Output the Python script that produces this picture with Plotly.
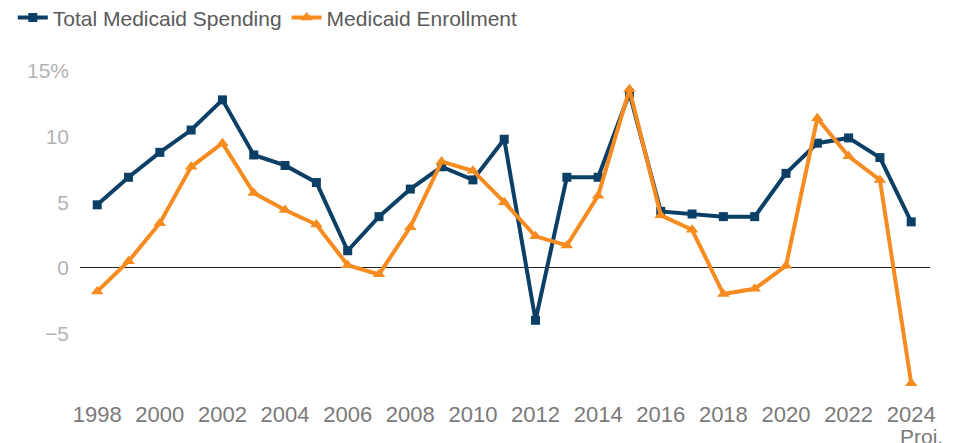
import plotly.graph_objects as go

years = list(range(1998, 2025))
spending = [4.8, 6.9, 8.8, 10.5, 12.8, 8.6, 7.8, 6.5, 1.3, 3.9, 6.0, 7.7, 6.7, 9.8,
            -4.0, 6.9, 6.9, 13.3, 4.3, 4.1, 3.9, 3.9, 7.2, 9.5, 9.9, 8.4, 3.5]
enrollment = [-1.8, 0.5, 3.4, 7.7, 9.5, 5.7, 4.4, 3.3, 0.2, -0.5, 3.1, 8.1, 7.4, 5.0,
              2.4, 1.7, 5.5, 13.6, 4.0, 2.9, -2.0, -1.6, 0.15, 11.4, 8.5, 6.7, -8.8]
x_tickvals = list(range(1998, 2025, 2))
x_ticktext = [str(y) for y in x_tickvals]
y_tickvals = [-5, 0, 5, 10, 15]
y_ticktext = ["\u22125", "0", "5", "10", "15%"]

BLUE = "#0b3f66"
ORANGE = "#f68b1f"

fig = go.Figure()
fig.add_trace(go.Scatter(
    x=years, y=spending, name="Total Medicaid Spending", mode="lines+markers",
    line=dict(color=BLUE, width=4),
    marker=dict(symbol="square", size=9, color=BLUE),
))
fig.add_trace(go.Scatter(
    x=years, y=enrollment, name="Medicaid Enrollment", mode="lines+markers",
    line=dict(color=ORANGE, width=4),
    marker=dict(symbol="triangle-up", size=11, color=ORANGE),
))

fig.add_annotation(x=2024, y=0, xref="x", yref="paper", text="Proj.",
                   showarrow=False, yanchor="top", yshift=-24, xshift=10,
                   font=dict(size=21, color="#7a7a7a"))

fig.update_layout(
    width=959, height=443,
    margin=dict(l=72, r=37, t=63, b=52),
    paper_bgcolor="white", plot_bgcolor="white",
    font=dict(family="Liberation Sans, Arial, sans-serif"),
    showlegend=True,
    legend=dict(orientation="h", xref="container", yref="container",
                x=0.005, y=0.978, xanchor="left", yanchor="middle",
                font=dict(size=21, color="#5a5a5a"),
                itemwidth=30, tracegroupgap=0),
    xaxis=dict(range=[1997.45, 2024.6], tickvals=x_tickvals, ticktext=x_ticktext,
               showgrid=False, zeroline=False, showline=False, ticks="",
               tickfont=dict(size=22, color="#7a7a7a")),
    yaxis=dict(range=[-10, 15], tickvals=y_tickvals, ticktext=y_ticktext,
               showgrid=False, zeroline=True, zerolinecolor="#222222", zerolinewidth=1,
               showline=False, ticks="", ticklabelstandoff=10,
               tickfont=dict(size=21, color="#b3b3b3")),
)

fig.write_html("out.html")
